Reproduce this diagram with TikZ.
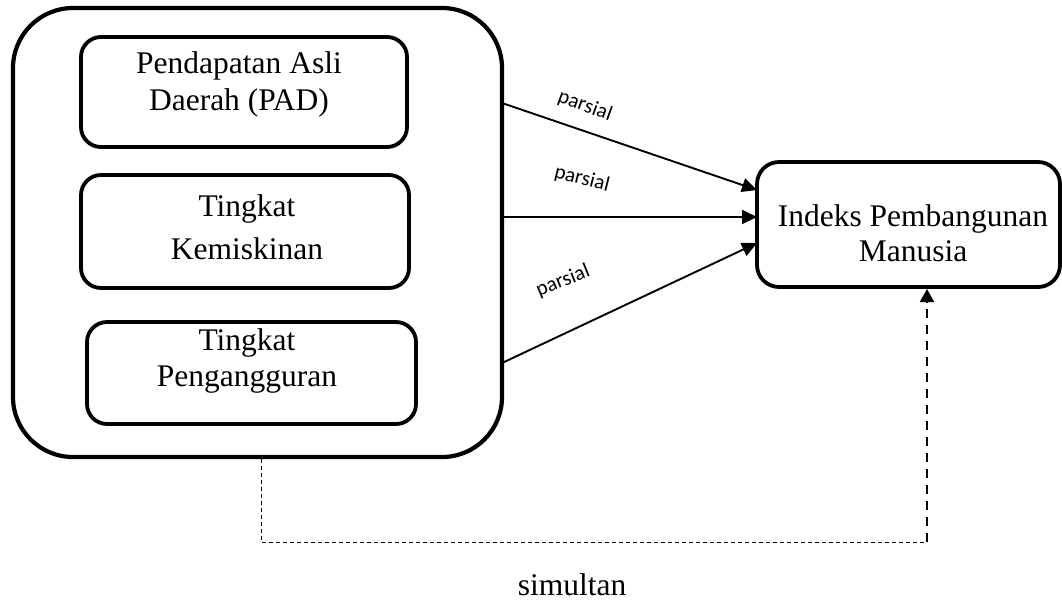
\documentclass[tikz,border=0pt]{standalone}
\usepackage{fontspec}
\setmainfont{Liberation Serif}
\newfontfamily\lblfont{Carlito}
\usetikzlibrary{arrows.meta}
\begin{document}
\begin{tikzpicture}[x=1pt,y=-1pt,
  boxstyle/.style={draw, rounded corners=20pt, line width=3.8pt, inner sep=0pt},
  txt/.style={align=center, font=\fontsize{31.5}{37}\selectfont, inner sep=0pt},
  lbl/.style={font=\lblfont\fontsize{21}{24}\selectfont, inner sep=0pt},
  arr/.style={line width=1.9pt, -{Triangle[length=15pt,width=14pt]}}
]
\useasboundingbox (0,0) rectangle (1062,603);
% outer group
\node[boxstyle, rounded corners=60pt, line width=4.2pt, minimum width=489pt, minimum height=449pt] (outer) at (257.5,232.5) {};
% inner boxes
\node[boxstyle, minimum width=326pt, minimum height=110pt] (b1) at (244,92) {};
\node[boxstyle, minimum width=328pt, minimum height=113pt] (b2) at (245,231.5) {};
\node[boxstyle, minimum width=329pt, minimum height=102pt] (b3) at (251.5,373) {};
\node[txt] (t1) at (239,84) {Pendapatan Asli\\Daerah (PAD)};
\node[txt, font=\fontsize{31.5}{43}\selectfont] (t2) at (247,227) {Tingkat\\Kemiskinan};
\node[txt, font=\fontsize{31.5}{36}\selectfont] (t3) at (247,361) {Tingkat\\Pengangguran};
% target box
\node[boxstyle, rounded corners=22pt, minimum width=303pt, minimum height=125pt] (idx) at (908.5,224.5) {};
\node[txt, font=\fontsize{31.5}{35}\selectfont] (t4) at (913,233) {Indeks Pembangunan\\Manusia};
% arrows
\coordinate (s1) at (502,103);
\coordinate (s2) at (502,217);
\coordinate (s3) at (502,363);
\coordinate (e1) at (757,190);
\coordinate (e2) at (757,217);
\coordinate (e3) at (757,243);
\draw[arr] (s1) -- (e1);
\draw[arr] (s2) -- (e2);
\draw[arr] (s3) -- (e3);
\node[lbl, rotate=-20] (p1) at (585,106) {parsial};
\node[lbl, rotate=-14] (p2) at (582,179) {parsial};
\node[lbl, rotate=22] (p3) at (563,281) {parsial};
% simultaneous dashed connector
\coordinate (d0) at (261,459);
\coordinate (d1) at (261,542);
\coordinate (d2) at (927,542);
\coordinate (d3) at (927,289);
\draw[line width=1pt, dash pattern=on 4pt off 3pt] (d0) -- (d1) -- (d2);
\draw[line width=2pt, dash pattern=on 9pt off 7pt, -{Triangle[length=13pt,width=14pt]}] (d2) -- (d3);
\node[txt] (sim) at (572,585) {simultan};
\end{tikzpicture}
\end{document}
